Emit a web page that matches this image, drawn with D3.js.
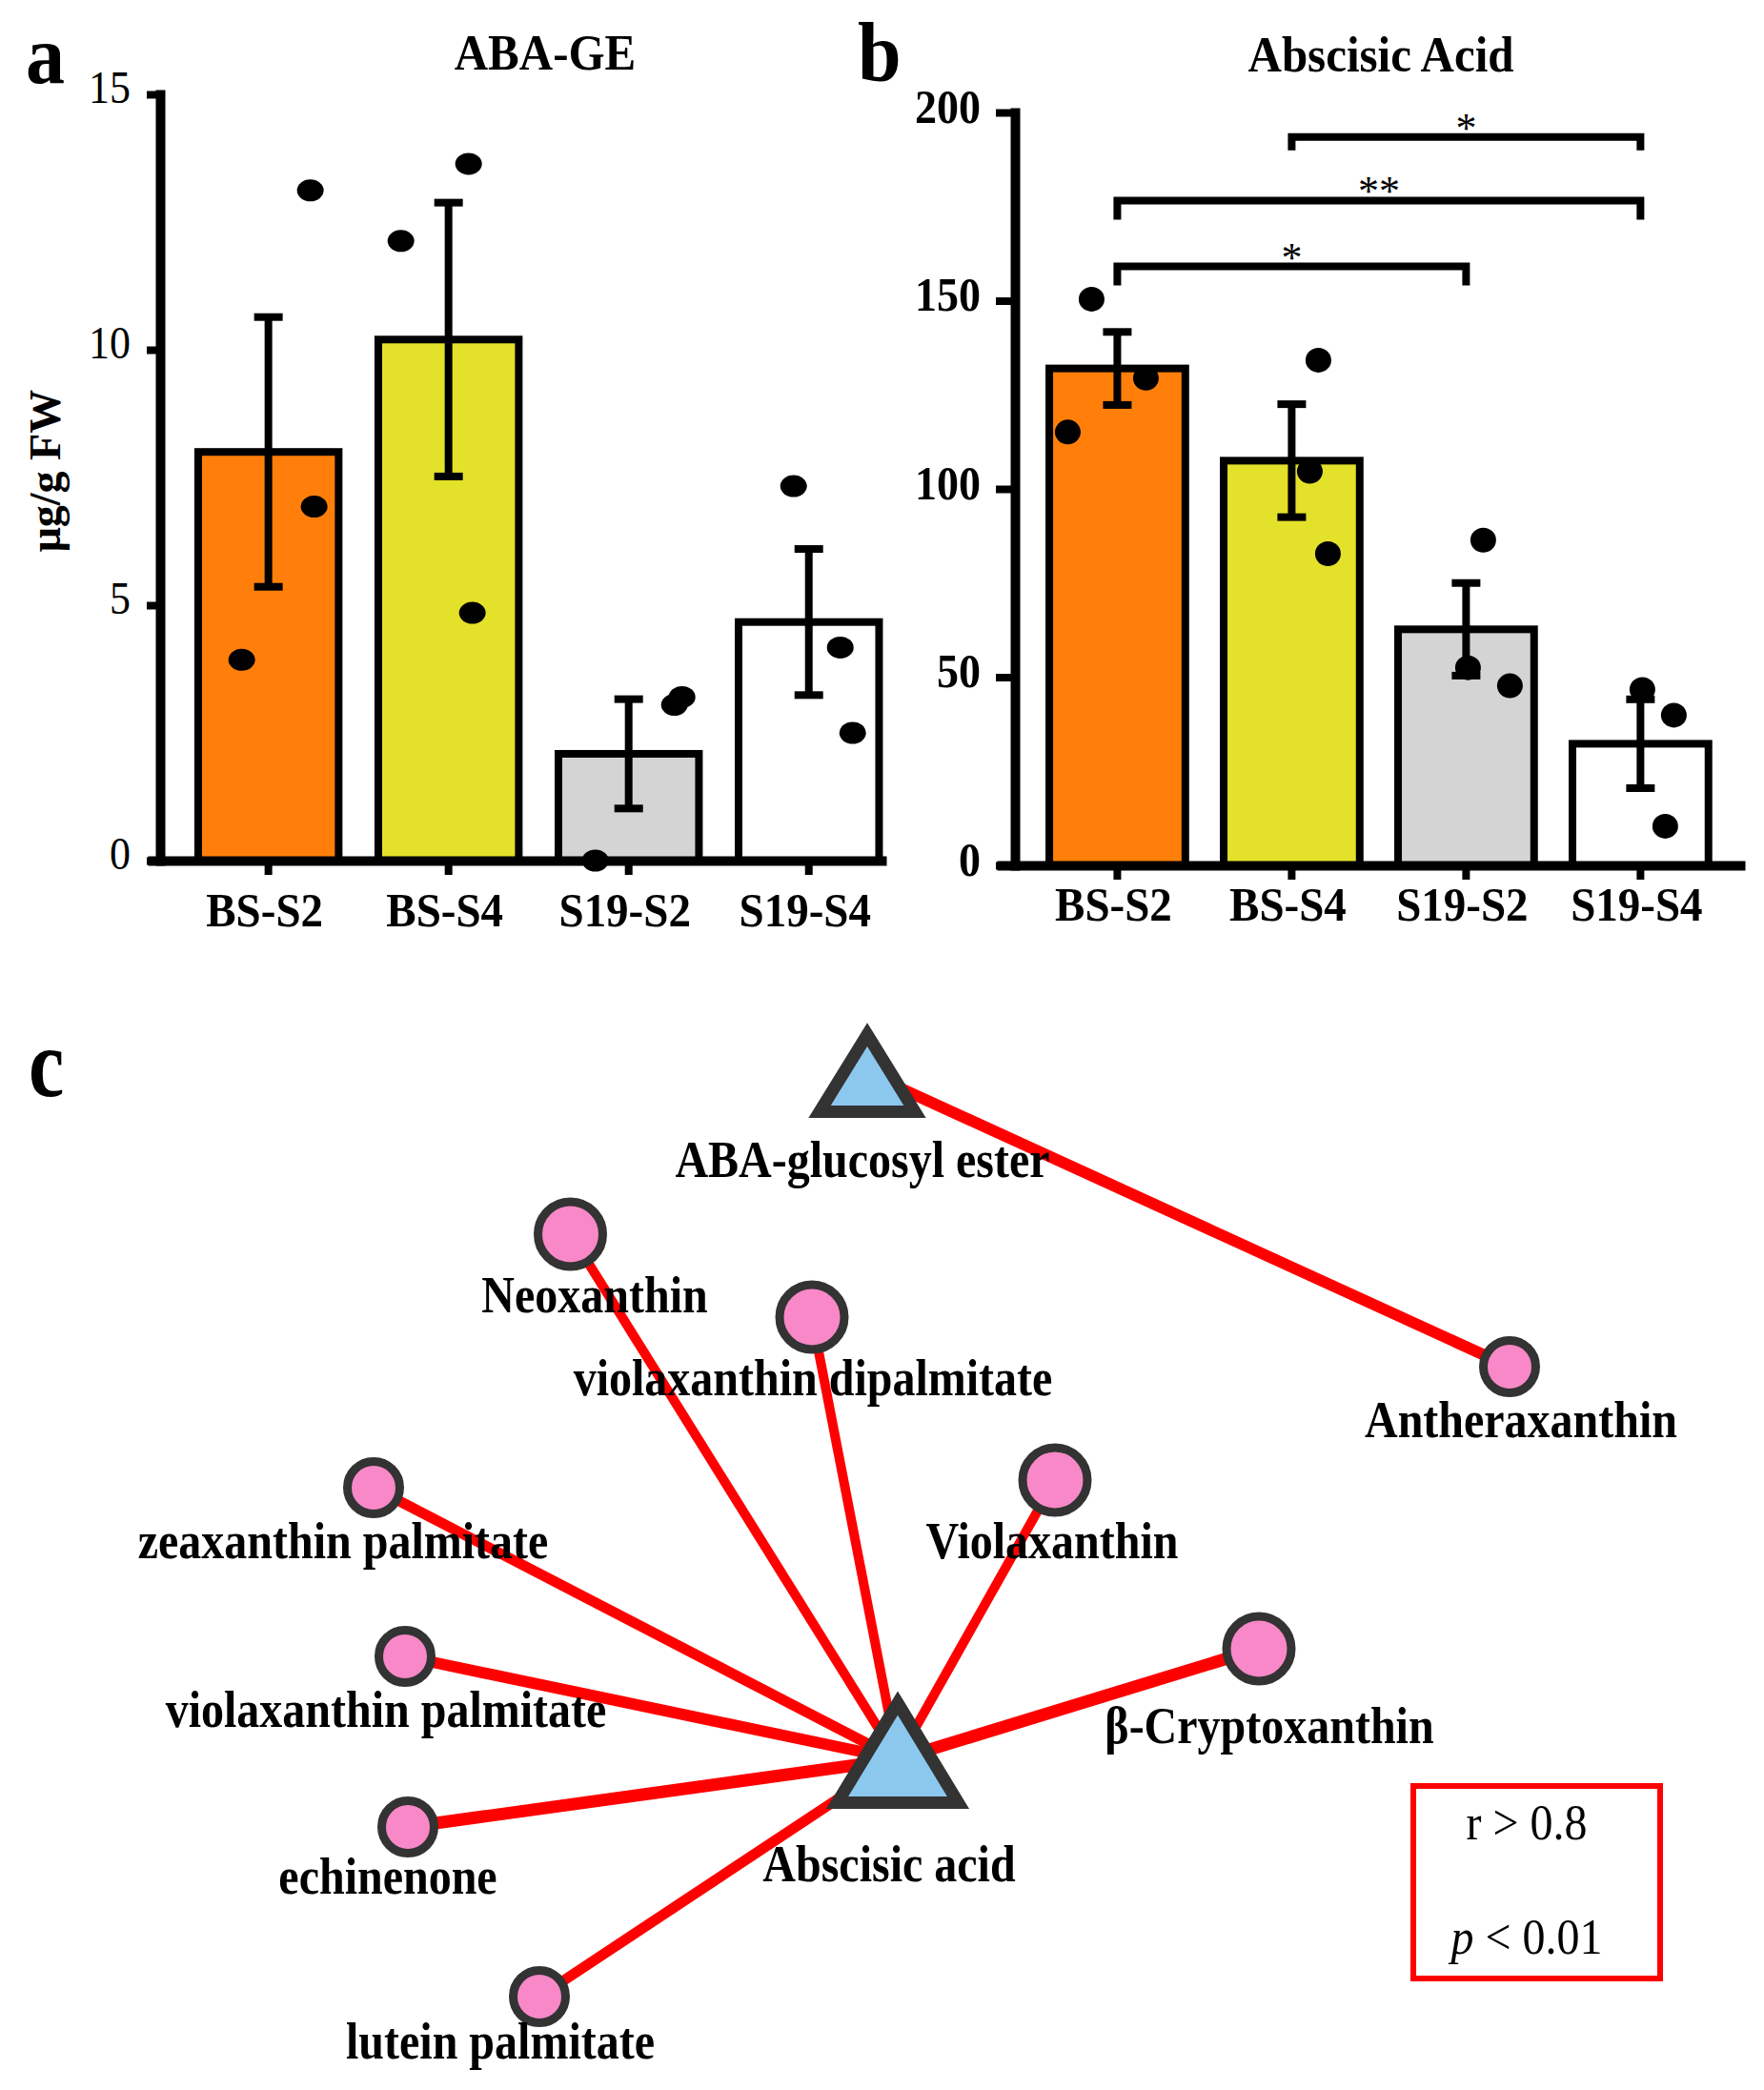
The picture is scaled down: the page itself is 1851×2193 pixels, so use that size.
<!DOCTYPE html>
<html><head><meta charset="utf-8">
<script src="https://cdn.jsdelivr.net/npm/d3@7"></script>
<style>html,body{margin:0;padding:0;background:#fff;} svg{display:block;}</style>
</head><body>
<svg id="chart" width="1851" height="2193"></svg>
<script>
// ---------------- DATA ----------------
const categories = ["BS-S2", "BS-S4", "S19-S2", "S19-S4"];

// Panel a: ABA-GE (µg/g FW)
const abaGeMean = [8.0, 10.2, 2.09, 4.67];
const abaGeSE = [2.64, 2.68, 1.07, 1.43];
const abaGeReplicates = [[13.12, 6.93, 3.93], [13.64, 12.13, 4.85], [0, 3.05, 3.2], [7.33, 4.17, 2.5]];
const abaGeTicks = [0, 5, 10, 15];

// Panel b: Abscisic Acid
const abaMean = [132.0, 107.5, 62.7, 32.3];
const abaSE = [9.7, 15.0, 12.3, 11.8];
const abaReplicates = [[150.4, 129.4, 115.1], [134.2, 104.7, 82.8], [86.4, 52.5, 47.7], [46.7, 39.9, 10.4]];
const abaTicks = [0, 50, 100, 150, 200];

// significance brackets (panel b)
const sigFrom = ["BS-S4", "BS-S2", "BS-S2"];
const sigTo = ["S19-S4", "S19-S4", "S19-S2"];
const sigLabels = ["*", "**", "*"];
const sigLevels = [193.5, 176.6, 159.1];

// Panel c: correlation network
const nodeNames = ["ABA-glucosyl ester", "Abscisic acid", "Neoxanthin", "violaxanthin dipalmitate",
  "Antheraxanthin", "zeaxanthin palmitate", "Violaxanthin", "violaxanthin palmitate",
  "β-Cryptoxanthin", "echinenone", "lutein palmitate"];
const nodeKinds = ["hormone", "hormone", "carotenoid", "carotenoid", "carotenoid", "carotenoid",
  "carotenoid", "carotenoid", "carotenoid", "carotenoid", "carotenoid"];
const edgeSources = ["ABA-glucosyl ester", "Abscisic acid", "Abscisic acid", "Abscisic acid", "Abscisic acid",
  "Abscisic acid", "Abscisic acid", "Abscisic acid", "Abscisic acid"];
const edgeTargets = ["Antheraxanthin", "Neoxanthin", "violaxanthin dipalmitate", "zeaxanthin palmitate",
  "Violaxanthin", "violaxanthin palmitate", "β-Cryptoxanthin", "echinenone", "lutein palmitate"];
const legendLines = ["r > 0.8", "p < 0.01"];

// ---------------- LAYOUT / STYLE ----------------
const FONT = "'Liberation Serif','Times New Roman',Times,serif";
const barFill = ["#FF7F0A", "#E4E12B", "#D4D4D4", "#FFFFFF"];
const jitterA = [[44, 48, -28], [21, -50, 25], [-35, 48, 56], [-16, 33, 46]];
const jitterB = [[-27, 30, -52], [28, 19, 38], [18, 2, 46], [2, 35, 26]];

const nodeLayout = {
  "ABA-glucosyl ester": {x: 910, y: 1126, apexY: 1085.5, baseY: 1166.5, w: 100, lx: 905, ly: 1235},
  "Abscisic acid": {x: 942, y: 1846, apexY: 1787, baseY: 1891.5, w: 127, lx: 933, ly: 1974},
  "Neoxanthin": {x: 598.5, y: 1295, big: true, lx: 624, ly: 1377},
  "violaxanthin dipalmitate": {x: 852, y: 1382, big: true, lx: 853, ly: 1464},
  "Antheraxanthin": {x: 1584, y: 1434, big: false, lx: 1596, ly: 1508},
  "zeaxanthin palmitate": {x: 392, y: 1561, big: false, lx: 360, ly: 1635},
  "Violaxanthin": {x: 1107, y: 1553, big: true, lx: 1104, ly: 1635},
  "violaxanthin palmitate": {x: 425, y: 1738, big: false, lx: 405, ly: 1812},
  "β-Cryptoxanthin": {x: 1321, y: 1730, big: true, lx: 1332, ly: 1829},
  "echinenone": {x: 428, y: 1917, big: false, lx: 407, ly: 1987},
  "lutein palmitate": {x: 566, y: 2095, big: false, lx: 525, ly: 2160}
};
const edgeWidth = {
  "Antheraxanthin": 12, "Neoxanthin": 10, "violaxanthin dipalmitate": 10, "zeaxanthin palmitate": 11,
  "Violaxanthin": 10, "violaxanthin palmitate": 12, "β-Cryptoxanthin": 13, "echinenone": 13, "lutein palmitate": 11
};

const svg = d3.select("#chart");

function txt(g, x, y, s, o) {
  const t = g.append("text")
    .attr("transform", `translate(${x},${y}) scale(1,${o.sy || 1})`)
    .attr("font-family", FONT)
    .attr("font-size", o.size)
    .attr("font-weight", o.weight || "normal")
    .attr("text-anchor", o.anchor || "middle")
    .attr("fill", "#000")
    .text(s);
  if (o.style) t.attr("font-style", o.style);
  return t;
}

// ---------------- BAR PANEL ----------------
function barPanel(cfg) {
  const g = svg.append("g");
  const x = d3.scaleBand().domain(categories).range(cfg.xRange)
    .paddingInner(0.22).paddingOuter(cfg.po).align(cfg.align);
  const y = d3.scaleLinear().domain(cfg.yDomain).range([cfg.y0, cfg.yTop]);

  g.selectAll("rect.bar").data(categories).join("rect")
    .attr("x", d => x(d)).attr("width", x.bandwidth())
    .attr("y", (d, i) => y(cfg.mean[i]))
    .attr("height", (d, i) => y(0) - y(cfg.mean[i]))
    .attr("fill", (d, i) => barFill[i])
    .attr("stroke", "#000").attr("stroke-width", 8);

  categories.forEach((c, i) => {
    g.selectAll(null).data(cfg.reps[i]).join("ellipse")
      .attr("cx", (v, j) => x(c) + x.bandwidth() / 2 + cfg.jitter[i][j])
      .attr("cy", v => y(v))
      .attr("rx", cfg.rx).attr("ry", cfg.ry)
      .attr("fill", "#000");
  });

  categories.forEach((c, i) => {
    const cx = x(c) + x.bandwidth() / 2;
    const lo = y(cfg.mean[i] - cfg.se[i]), hi = y(cfg.mean[i] + cfg.se[i]);
    g.append("line").attr("x1", cx).attr("x2", cx).attr("y1", lo).attr("y2", hi)
      .attr("stroke", "#000").attr("stroke-width", 8);
    [lo, hi].forEach(yy => g.append("line").attr("x1", cx - 15).attr("x2", cx + 15)
      .attr("y1", yy).attr("y2", yy).attr("stroke", "#000").attr("stroke-width", 8));
  });

  const ax = g.append("g").attr("transform", `translate(0,${cfg.y0})`)
    .call(d3.axisBottom(x).tickSize(15).tickSizeOuter(0).tickFormat(""));
  ax.select(".domain").attr("stroke-width", 10).attr("stroke", "#000");
  ax.selectAll(".tick line").attr("stroke-width", 8).attr("stroke", "#000");
  categories.forEach(c => txt(g, x(c) + x.bandwidth() / 2 - 4, cfg.xLabelY, c,
    {size: 47, weight: "bold", sy: 1.07}));

  const ay = g.append("g").attr("transform", `translate(${cfg.xAxisX},0)`)
    .call(d3.axisLeft(y).tickValues(cfg.ticks).tickSize(cfg.tickLen).tickSizeOuter(0));
  ay.select(".domain").attr("stroke-width", 10).attr("stroke", "#000").attr("stroke-linecap", "square");
  ay.selectAll(".tick line").attr("stroke-width", 8).attr("stroke", "#000");
  ay.selectAll(".tick text")
    .attr("x", null).attr("dy", null)
    .attr("transform", `translate(${cfg.labelDX},${cfg.labelDY}) scale(1,1.12)`)
    .attr("font-family", FONT).attr("font-size", cfg.tickFont)
    .attr("font-weight", cfg.tickWeight).attr("fill", "#000").attr("text-anchor", "end");

  txt(g, cfg.titleX, cfg.titleY, cfg.title, {size: 49, weight: "bold", sy: 1.07});
  txt(g, cfg.letterX, cfg.letterY, cfg.letter, {size: 82, weight: "bold", anchor: "start", sy: 1.08});
  return {g, x, y};
}

const pa = barPanel({
  xRange: [155, 930], po: 0.16, align: 0.875, yDomain: [0, 15], y0: 903, yTop: 99,
  mean: abaGeMean, se: abaGeSE, reps: abaGeReplicates, jitter: jitterA, rx: 14, ry: 11.5,
  ticks: abaGeTicks, xAxisX: 168, tickLen: 14, labelDX: -31, labelDY: 8, tickFont: 44, tickWeight: "normal",
  xLabelY: 972, title: "ABA-GE", titleX: 572, titleY: 73, letter: "a", letterX: 27, letterY: 87
});
txt(pa.g, 0, 0, "μg/g FW", {size: 46, weight: "bold"})
  .attr("transform", "translate(63,494) rotate(-90)");

const pb = barPanel({
  xRange: [1046, 1831], po: 0.255, align: 0.59, yDomain: [0, 200], y0: 908, yTop: 118,
  mean: abaMean, se: abaSE, reps: abaReplicates, jitter: jitterB, rx: 13.5, ry: 13,
  ticks: abaTicks, xAxisX: 1065, tickLen: 20, labelDX: -36, labelDY: 10, tickFont: 46, tickWeight: "bold",
  xLabelY: 966, title: "Abscisic Acid", titleX: 1449, titleY: 75, letter: "b", letterX: 900, letterY: 85
});

sigLabels.forEach((lab, i) => {
  const x1 = pb.x(sigFrom[i]) + pb.x.bandwidth() / 2;
  const x2 = pb.x(sigTo[i]) + pb.x.bandwidth() / 2;
  const yy = pb.y(sigLevels[i]);
  const drop = i === 0 ? 14 : 20;
  pb.g.append("path")
    .attr("d", `M${x1},${yy + drop}V${yy}H${x2}V${yy + drop}`)
    .attr("fill", "none").attr("stroke", "#000").attr("stroke-width", 8);
  txt(pb.g, (x1 + x2) / 2, yy + 5, lab, {size: 44});
});

// ---------------- NETWORK PANEL ----------------
const gc = svg.append("g");
txt(gc, 30, 1150, "c", {size: 84, weight: "bold", anchor: "start", sy: 1.22});

gc.selectAll("line.edge").data(edgeSources.map((s, i) => ({s, t: edgeTargets[i]}))).join("line")
  .attr("x1", d => nodeLayout[d.s].x).attr("y1", d => nodeLayout[d.s].y)
  .attr("x2", d => nodeLayout[d.t].x).attr("y2", d => nodeLayout[d.t].y)
  .attr("stroke", "#FF0000").attr("stroke-width", d => edgeWidth[d.t]);

const nodes = nodeNames.map((n, i) => ({name: n, kind: nodeKinds[i], ...nodeLayout[n]}));
gc.selectAll("path.tri").data(nodes.filter(d => d.kind === "hormone")).join("path")
  .attr("d", d => `M${d.x},${d.apexY}L${d.x + d.w / 2},${d.baseY}L${d.x - d.w / 2},${d.baseY}Z`)
  .attr("fill", "#8CC8EE").attr("stroke", "#333333").attr("stroke-width", 13)
  .attr("stroke-linejoin", "miter");
gc.selectAll("circle.node").data(nodes.filter(d => d.kind === "carotenoid")).join("circle")
  .attr("cx", d => d.x).attr("cy", d => d.y)
  .attr("r", d => d.big ? 34 : 27.5)
  .attr("fill", "#F888C8").attr("stroke", "#333333").attr("stroke-width", 9);

nodes.forEach(d => txt(gc, d.lx, d.ly, d.name, {size: 48, weight: "bold", sy: 1.15}));

gc.append("rect").attr("x", 1483).attr("y", 1874).attr("width", 259).attr("height", 202)
  .attr("fill", "#fff").attr("stroke", "#FF0000").attr("stroke-width", 6);
txt(gc, 1602, 1930, legendLines[0], {size: 48, sy: 1.08});
const lt = txt(gc, 1602, 2050, "", {size: 48, sy: 1.08});
lt.append("tspan").attr("font-style", "italic").text(legendLines[1].slice(0, 1));
lt.append("tspan").text(legendLines[1].slice(1));
</script>
</body></html>
